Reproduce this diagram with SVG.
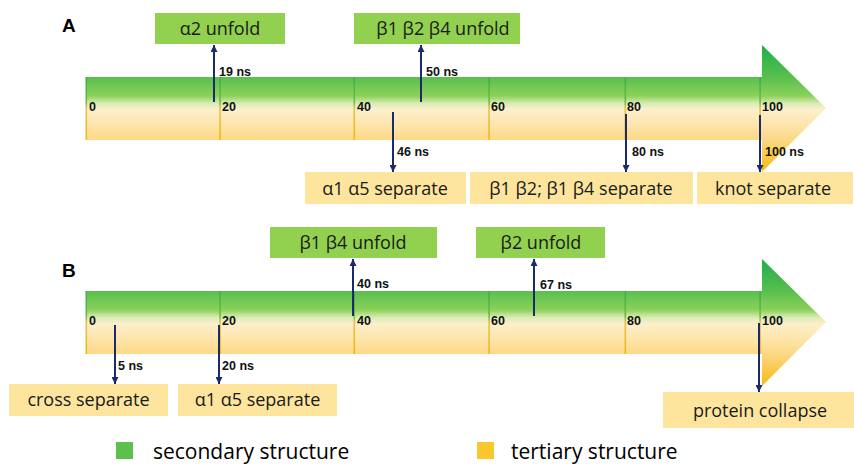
<svg xmlns="http://www.w3.org/2000/svg" width="854" height="464" viewBox="0 0 854 464">
<defs>
<linearGradient id="bar" x1="0" y1="0" x2="0" y2="1">
<stop offset="0" stop-color="#1fae4b"/>
<stop offset="0.25" stop-color="#58bf4e"/>
<stop offset="0.40" stop-color="#8bd15a"/>
<stop offset="0.46" stop-color="#d9ecb4"/>
<stop offset="0.51" stop-color="#fdefcc"/>
<stop offset="0.63" stop-color="#fde5aa"/>
<stop offset="0.75" stop-color="#fcd884"/>
<stop offset="1" stop-color="#f6b90c"/>
</linearGradient>
<linearGradient id="tick" x1="0" y1="0" x2="0" y2="1">
<stop offset="0" stop-color="#3fae48"/>
<stop offset="0.4" stop-color="#6cbd47"/>
<stop offset="0.5" stop-color="#e7c24a"/>
<stop offset="1" stop-color="#f2b816"/>
</linearGradient>
<marker id="ah" viewBox="0 0 10 10" refX="10" refY="5" markerWidth="7" markerHeight="7" orient="auto" markerUnits="userSpaceOnUse">
<path d="M0,0 L10,5 L0,10 z" fill="#1b2a6b"/>
</marker>
<style>
.panel{font-family:"Liberation Sans",Arial,sans-serif;font-weight:bold;font-size:19px;fill:#000}
.gbox{fill:#92d050}
.ybox{fill:#fee59e}
.lbl{font-family:"Open Sans","Noto Sans",sans-serif;font-size:18px;fill:#1a1a1a;text-anchor:middle}
.num{font-family:"Liberation Sans",Arial,sans-serif;font-weight:bold;font-size:12.5px;fill:#111}
.ev{stroke:#1b2a6b;stroke-width:2;fill:none;marker-end:url(#ah)}
.tk{fill:url(#tick)}
.leg{font-family:"Open Sans","Noto Sans",sans-serif;font-size:21px;fill:#000}
</style>
</defs>
<rect width="854" height="464" fill="#fff"/>

<!-- Panel A -->
<g id="panelA-timeline">
<text class="panel" x="62" y="32">A</text>
<path d="M86,77 H762 V45 L826,108 L762,172 V140 H86 Z" fill="url(#bar)"/>
<rect class="tk" x="85.5" y="77" width="1.6" height="63"/>
<rect class="tk" x="219.3" y="77" width="1.6" height="63"/>
<rect class="tk" x="353.5" y="77" width="1.6" height="63"/>
<rect class="tk" x="488.3" y="77" width="1.6" height="63"/>
<rect class="tk" x="624.5" y="77" width="1.6" height="63"/>
<rect class="tk" x="759.3" y="77" width="1.6" height="63"/>
</g>

<g id="A-a2-unfold"><rect class="gbox" x="155" y="13" width="130" height="31"/><text class="lbl" x="220" y="35">α2 unfold</text></g>
<g id="A-b1b2b4-unfold"><rect class="gbox" x="354" y="13" width="166" height="31"/><text class="lbl" x="443" y="35">β1 β2 β4 unfold</text></g>
<g id="A-a1a5-separate"><rect class="ybox" x="305" y="172" width="161" height="32"/><text class="lbl" x="385" y="195">α1 α5 separate</text></g>
<g id="A-b1b2-b1b4-separate"><rect class="ybox" x="470" y="172" width="223" height="32"/><text class="lbl" x="581" y="195">β1 β2; β1 β4 separate</text></g>
<g id="A-knot-separate"><rect class="ybox" x="697" y="172" width="156" height="32"/><text class="lbl" x="773" y="195">knot separate</text></g>

<!-- Panel B -->
<g id="panelB-timeline">
<text class="panel" x="62" y="277">B</text>
<path d="M86,291 H762 V259 L826,322 L762,386 V354 H86 Z" fill="url(#bar)"/>
<rect class="tk" x="85.5" y="291" width="1.6" height="63"/>
<rect class="tk" x="219.3" y="291" width="1.6" height="63"/>
<rect class="tk" x="353.5" y="291" width="1.6" height="63"/>
<rect class="tk" x="488.3" y="291" width="1.6" height="63"/>
<rect class="tk" x="624.5" y="291" width="1.6" height="63"/>
<rect class="tk" x="759.3" y="291" width="1.6" height="63"/>
</g>

<g id="B-b1b4-unfold"><rect class="gbox" x="270" y="227" width="167" height="31"/><text class="lbl" x="353" y="249">β1 β4 unfold</text></g>
<g id="B-b2-unfold"><rect class="gbox" x="476" y="227" width="129" height="31"/><text class="lbl" x="541" y="249">β2 unfold</text></g>
<g id="B-cross-separate"><rect class="ybox" x="9" y="384" width="159" height="32"/><text class="lbl" x="88.5" y="406">cross separate</text></g>
<g id="B-a1a5-separate"><rect class="ybox" x="178" y="384" width="159" height="32"/><text class="lbl" x="257.5" y="406">α1 α5 separate</text></g>
<g id="B-protein-collapse"><rect class="ybox" x="663" y="392" width="191" height="36"/><text class="lbl" x="760" y="417">protein collapse</text></g>

<!-- connectors -->
<g id="connectors">
<line class="ev" x1="214" y1="102" x2="214" y2="45"/>
<line class="ev" x1="421" y1="102" x2="421" y2="45"/>
<line class="ev" x1="393" y1="112" x2="393" y2="172"/>
<line class="ev" x1="626" y1="114" x2="626" y2="172"/>
<line class="ev" x1="760" y1="115" x2="760" y2="172"/>
<line class="ev" x1="353" y1="316" x2="353" y2="259"/>
<line class="ev" x1="534" y1="316" x2="534" y2="259"/>
<line class="ev" x1="115" y1="325" x2="115" y2="384"/>
<line class="ev" x1="219" y1="325" x2="219" y2="384"/>
<line class="ev" x1="759" y1="323" x2="759" y2="392"/>
</g>

<g id="labels">
<text class="num" x="89" y="111">0</text>
<text class="num" x="222" y="111">20</text>
<text class="num" x="357" y="111">40</text>
<text class="num" x="491" y="111">60</text>
<text class="num" x="627" y="111">80</text>
<text class="num" x="762" y="111">100</text>
<text class="num" x="219" y="76">19 ns</text>
<text class="num" x="426" y="76">50 ns</text>
<text class="num" x="397" y="156">46 ns</text>
<text class="num" x="632" y="156">80 ns</text>
<text class="num" x="765" y="156">100 ns</text>

<text class="num" x="89" y="325">0</text>
<text class="num" x="222" y="325">20</text>
<text class="num" x="357" y="325">40</text>
<text class="num" x="491" y="325">60</text>
<text class="num" x="627" y="325">80</text>
<text class="num" x="762" y="325">100</text>
<text class="num" x="357" y="288">40 ns</text>
<text class="num" x="540" y="289">67 ns</text>
<text class="num" x="118" y="370">5 ns</text>
<text class="num" x="222" y="370">20 ns</text>
</g>

<g id="legend">
<rect x="116" y="442" width="17" height="17" fill="#5cbf4e"/>
<text class="leg" x="153" y="459">secondary structure</text>
<rect x="477" y="442" width="17" height="17" fill="#fcc72c"/>
<text class="leg" x="511" y="459">tertiary structure</text>
</g>
</svg>
